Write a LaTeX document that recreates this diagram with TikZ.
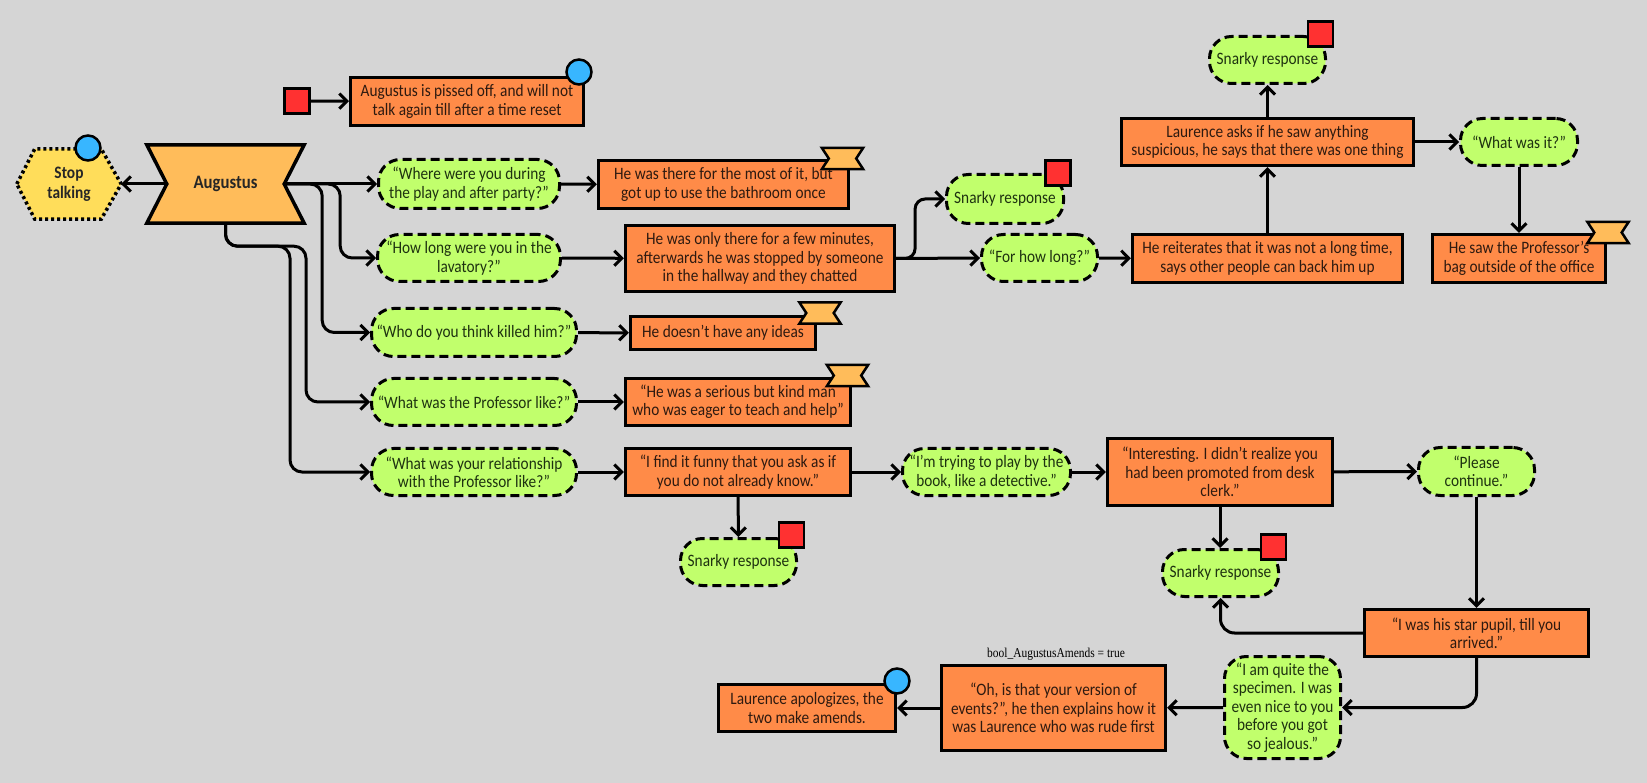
\documentclass[tikz,border=0pt]{standalone}
\usepackage{fontspec}
\setmainfont{Carlito}[FakeStretch=0.88]
\newfontfamily\labelserif{Liberation Serif}[FakeStretch=0.85]
\usetikzlibrary{arrows.meta,calc}
\pgfdeclarelayer{bg}
\pgfdeclarelayer{shp}
\pgfsetlayers{bg,shp,main}
\definecolor{bgc}{HTML}{D5D5D5}
\definecolor{orbox}{HTML}{FF8B48}
\definecolor{grpill}{HTML}{C1FF6C}
\definecolor{augc}{HTML}{FFBC5A}
\definecolor{hexc}{HTML}{FFDD5A}
\definecolor{redc}{HTML}{FF3131}
\definecolor{bluec}{HTML}{38B6FF}
\definecolor{ortext}{HTML}{2E1A10}
\definecolor{grtext}{HTML}{1E3210}
\newcommand\drawnotched[3][]{\draw[#1] (#2.north west) -- (#2.north east) -- ([xshift=-#3]#2.east) -- (#2.south east) -- (#2.south west) -- ([xshift=#3]#2.west) -- cycle;}
\tikzset{
  txt/.style={font=\fontsize{17.4pt}{18.4pt}\selectfont, align=center, inner sep=2pt},
  ans/.style={txt, draw=black, line width=3.2pt, fill=orbox, text=ortext},
  pill/.style={txt, draw=black, line width=3pt, dash pattern=on 9pt off 5pt, fill=grpill, rounded corners=22pt, text=grtext},
  redsq/.style={draw=black, line width=2.5pt, fill=redc, minimum size=25pt, inner sep=0pt},
  bluedot/.style={circle, draw=black, line width=2.5pt, fill=bluec, minimum size=25pt, inner sep=0pt},
  ribbonbox/.style={minimum width=41pt, minimum height=21pt, inner sep=0pt},
  ribbonline/.style={draw=black, line width=2.5pt, fill=augc, line join=miter},
  arr/.style={draw=black, line width=3pt, -{Straight Barb[length=7.5pt,width=15pt]}},
}
\begin{document}
\begin{tikzpicture}[x=1pt,y=-1pt]
\begin{pgfonlayer}{bg}
\fill[bgc] (0,0) rectangle (1647,783);
\end{pgfonlayer}
\useasboundingbox (0,0) rectangle (1647,783);

% top-left
\node[redsq] (red0) at (297,101) {};
\node[ans, minimum width=233pt, minimum height=48pt] (pissed) at (467,101.5) {Augustus is pissed off, and will not\\talk again till after a time reset};
\node[bluedot] (blue0) at (579,72) {};

% main hub
\node[txt, minimum width=104pt, minimum height=70pt, font=\fontsize{17.5pt}{19.5pt}\selectfont\bfseries, text=black!85] (stop) at (69,184) {Stop\\talking};
\node[txt, minimum width=157pt, minimum height=78pt, font=\fontsize{19pt}{20pt}\selectfont\bfseries, text=black!85] (aug) at (225.5,184) {Augustus};
\begin{pgfonlayer}{shp}
\draw[fill=hexc, draw=black, line width=3.5pt, dash pattern=on 3pt off 3pt]
  (stop.west) -- ([xshift=18pt]stop.north west) -- ([xshift=-20pt]stop.north east) -- (stop.east) -- ([xshift=-20pt]stop.south east) -- ([xshift=18pt]stop.south west) -- cycle;
\drawnotched[fill=augc, draw=black, line width=3.5pt, line join=miter]{aug}{20pt}
\end{pgfonlayer}
\node[bluedot] (bluestop) at (88,148) {};
\coordinate (augL) at ([xshift=20pt]aug.west);
\coordinate (augR) at ([xshift=-20pt]aug.east);

% questions
\node[pill, minimum width=181pt, minimum height=49pt] (q1) at (469,184) {“Where were you during\\the play and after party?”};
\node[pill, minimum width=183pt, minimum height=47pt] (q2) at (469,258) {“How long were you in the\\lavatory?”};
\node[pill, minimum width=205pt, minimum height=48pt] (q3) at (474,332.5) {“Who do you think killed him?”};
\node[pill, minimum width=205pt, minimum height=47pt] (q4) at (474,402) {“What was the Professor like?”};
\node[pill, minimum width=205pt, minimum height=47pt] (q5) at (474,472) {“What was your relationship\\with the Professor like?”};

% answers
\node[ans, minimum width=250pt, minimum height=48pt] (a1) at (723.5,184.5) {He was there for the most of it, but\\got up to use the bathroom once};
\node[ans, minimum width=269pt, minimum height=66pt] (a2) at (760,258.5) {He was only there for a few minutes,\\afterwards he was stopped by someone\\in the hallway and they chatted};
\node[ans, minimum width=185pt, minimum height=33pt] (a3) at (723,333) {He doesn’t have any ideas};
\node[ans, minimum width=225pt, minimum height=47pt] (a4) at (738,402) {“He was a serious but kind man\\who was eager to teach and help”};
\node[ans, minimum width=225pt, minimum height=47pt] (a5) at (738,472) {“I find it funny that you ask as if\\you do not already know.”};

% branch from a2
\node[pill, minimum width=117pt, minimum height=49pt] (sn1) at (1005,199) {Snarky response};
\node[pill, minimum width=116pt, minimum height=47pt] (fhl) at (1039.5,258) {“For how long?”};
\node[ans, minimum width=270pt, minimum height=48pt] (reit) at (1267.5,258.5) {He reiterates that it was not a long time,\\says other people can back him up};
\node[ans, minimum width=292pt, minimum height=47pt] (laur) at (1267.5,142) {Laurence asks if he saw anything\\suspicious, he says that there was one thing};
\node[pill, minimum width=116pt, minimum height=47pt] (sn2) at (1267.5,60) {Snarky response};
\node[pill, minimum width=117pt, minimum height=47pt] (what) at (1519,142) {“What was it?”};
\node[ans, minimum width=173pt, minimum height=48pt] (saw) at (1519,258.5) {He saw the Professor’s\\bag outside of the office};

% branch from a5
\node[pill, minimum width=116pt, minimum height=47pt] (sn3) at (738.5,562) {Snarky response};
\node[pill, minimum width=168pt, minimum height=47pt] (trying) at (986.5,472) {“I’m trying to play by the\\book, like a detective.”};
\node[ans, minimum width=225pt, minimum height=67pt] (inter) at (1220,472) {“Interesting. I didn’t realize you\\had been promoted from desk\\clerk.”};
\node[pill, minimum width=116pt, minimum height=48pt] (please) at (1476.5,471.5) {“Please\\continue.”};
\node[pill, minimum width=116pt, minimum height=47pt] (sn4) at (1220.5,573) {Snarky response};
\node[ans, minimum width=224pt, minimum height=47pt] (star) at (1476.5,633) {“I was his star pupil, till you\\arrived.”};
\node[pill, minimum width=116pt, minimum height=102pt] (spec) at (1282.5,707.5) {“I am quite the\\specimen. I was\\even nice to you\\before you got\\so jealous.”};
\node[ans, minimum width=224pt, minimum height=85pt] (oh) at (1053.5,708) {“Oh, is that your version of\\events?”, he then explains how it\\was Laurence who was rude first};
\node[ans, minimum width=177pt, minimum height=47pt] (apol) at (807,708) {Laurence apologizes, the\\two make amends.};
\node[font=\labelserif\fontsize{13.5pt}{14pt}\selectfont, inner sep=0pt] (boollbl) at (1056,654) {bool\_AugustusAmends = true};

% markers
\node[redsq] (red1) at (1058,173) {};
\node[redsq] (red2) at (1320.5,34) {};
\node[redsq] (red3) at (791.5,535) {};
\node[redsq] (red4) at (1273.5,547) {};
\node[bluedot] (blue1) at (897,681) {};
\node[ribbonbox] (rib1) at (842.5,158.5) {};
\node[ribbonbox] (rib2) at (1608,232.5) {};
\node[ribbonbox] (rib3) at (820,313) {};
\node[ribbonbox] (rib4) at (847.5,375.5) {};
\drawnotched[ribbonline]{rib1}{7pt}
\drawnotched[ribbonline]{rib2}{7pt}
\drawnotched[ribbonline]{rib3}{7pt}
\drawnotched[ribbonline]{rib4}{7pt}

% connectors
\draw[arr] (red0) -- (pissed);
\draw[arr] (augL) -- (stop.east);
\draw[arr] (augR) -- (q1.west);
\draw[arr, rounded corners=12pt] (augR) -- ++(56,0) |- (q2.west);
\draw[arr, rounded corners=12pt] (augR) -- ++(38,0) |- (q3.west);
\draw[arr, rounded corners=12pt] (aug.south) -- ++(0,23) -- ++(80.5,0) |- (q4.west);
\draw[arr, rounded corners=12pt] (aug.south) -- ++(0,23) -- ++(64.5,0) |- (q5.west);
\draw[arr] (q1) -- (a1);
\draw[arr] (q2) -- (a2);
\draw[arr] (q3) -- (a3);
\draw[arr] (q4) -- (a4);
\draw[arr] (q5) -- (a5);
\draw[arr] (a2.east) -- (fhl.west);
\draw[arr, rounded corners=10pt] (a2.east) -- ++(19,0) |- (sn1.west);
\draw[arr] (fhl) -- (reit);
\draw[arr] (reit) -- (laur);
\draw[arr] (laur) -- (sn2);
\draw[arr] (laur) -- (what);
\draw[arr] (what) -- (saw);
\draw[arr] (a5) -- (sn3);
\draw[arr] (a5) -- (trying);
\draw[arr] (trying) -- (inter);
\draw[arr] (inter) -- (please);
\draw[arr] (inter.south) -- (inter.south |- sn4.north);
\draw[arr] (please) -- (star);
\draw[arr, rounded corners=14pt] (star.west) -| (sn4.south);
\draw[arr, rounded corners=14pt] (star.south) |- (spec.east);
\draw[arr] (spec) -- (oh);
\draw[arr] (oh) -- (apol);
\end{tikzpicture}
\end{document}
